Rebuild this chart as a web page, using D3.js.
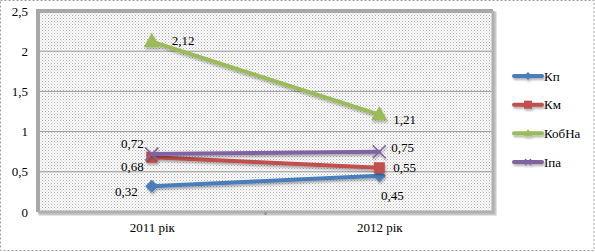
<!DOCTYPE html>
<html><head><meta charset="utf-8">
<script src="https://cdn.jsdelivr.net/npm/d3@7"></script>
<style>
html,body{margin:0;padding:0;background:#fff;}
svg{display:block;}
</style></head>
<body>
<script>
const categories = ["2011 рік", "2012 рік"];
const seriesNames = ["Кп", "Км", "КобНа", "Іпа"];
const kp = [0.32, 0.45];
const km = [0.68, 0.55];
const kobna = [2.12, 1.21];
const ipa = [0.72, 0.75];
const yTicks = [0, 0.5, 1, 1.5, 2, 2.5];
const yTickLabels = ["0", "0,5", "1", "1,5", "2", "2,5"];

const FONT = "'Liberation Serif', Tinos, 'Times New Roman', 'DejaVu Serif', serif";
const colors = ["#4a7ebb", "#c0504d", "#9bbb59", "#8064a2"];
const markers = ["diamond", "square", "triangle", "x"];
// label offsets [dx, dy, anchor] per series per point
const labelOffsets = [
  [[-14, 5, "end"], [13, 20, "middle"]],
  [[-8, 9, "end"], [14, 0, "start"]],
  [[20, -1, "start"], [14, 5, "start"]],
  [[-8, -11, "end"], [12, -4, "start"]]
];

const seriesData = [kp, km, kobna, ipa];
const fmt = v => v.toFixed(2).replace(".", ",");

const W = 595, H = 252;
const svg = d3.select("body").append("svg").attr("width", W).attr("height", H)
  .attr("font-family", FONT);

const defs = svg.append("defs");
const pat = defs.append("pattern").attr("id", "dots").attr("width", 3).attr("height", 3)
  .attr("patternUnits", "userSpaceOnUse");
pat.append("rect").attr("width", 3).attr("height", 3).attr("fill", "#fbfbfb");
pat.append("rect").attr("width", 1).attr("height", 1).attr("fill", "#b0b0b0");
pat.append("rect").attr("x", 1.5).attr("y", 1.5).attr("width", 1).attr("height", 1).attr("fill", "#c8c8c8");

const sh = defs.append("filter").attr("id", "shadow").attr("x", "-20%").attr("y", "-20%").attr("width", "140%").attr("height", "160%");
sh.append("feDropShadow").attr("dx", 1).attr("dy", 2).attr("stdDeviation", 1).attr("flood-color", "#000").attr("flood-opacity", 0.3);

// outer border
svg.append("rect").attr("x", 0.5).attr("y", 0.5).attr("width", W - 1.5).attr("height", 250)
  .attr("fill", "#fff").attr("stroke", "#a0a0a0").attr("stroke-dasharray", "2,2");

const pLeft = 38, pRight = 493, pTop = 11, pBottom = 212;
const x = d3.scalePoint().domain(categories).range([pLeft, pRight]).padding(0.5);
const y = d3.scaleLinear().domain([0, 2.5]).range([pBottom, pTop]);

// plot area shadow
svg.append("rect").attr("x", pLeft + 2).attr("y", pTop + 2).attr("width", pRight - pLeft).attr("height", pBottom - pTop)
  .attr("fill", "none").attr("stroke", "#c8c8c8").attr("stroke-width", 3);
svg.append("rect").attr("x", pLeft).attr("y", pTop).attr("width", pRight - pLeft).attr("height", pBottom - pTop)
  .attr("fill", "url(#dots)");

// gridlines
svg.append("g").selectAll("line").data(yTicks.filter(t => t > 0 && t < 2.5)).join("line")
  .attr("x1", pLeft).attr("x2", pRight).attr("y1", d => y(d)).attr("y2", d => y(d))
  .attr("stroke", "#9a9a9a").attr("stroke-width", 1);

// plot frame (3D-ish)
svg.append("path").attr("d", `M${pLeft},${pBottom}V${pTop}H${pRight}`)
  .attr("fill", "none").attr("stroke", "#a8a8a8").attr("stroke-width", 4);
svg.append("path").attr("d", `M${pLeft},${pBottom}H${pRight}V${pTop}`)
  .attr("fill", "none").attr("stroke", "#b0b0b0").attr("stroke-width", 3);

// y axis labels
const yAxis = d3.axisLeft(y).tickValues(yTicks).tickFormat((d, i) => yTickLabels[i]).tickSize(0).tickPadding(8);
const ga = svg.append("g").attr("transform", `translate(${pLeft - 2},0)`).call(yAxis)
  .attr("font-family", FONT).attr("font-size", 13);
ga.select(".domain").remove();
ga.selectAll("text").attr("fill", "#000");

// category tick in middle
svg.append("line").attr("x1", (pLeft + pRight) / 2).attr("x2", (pLeft + pRight) / 2).attr("y1", pBottom).attr("y2", pBottom + 3)
  .attr("stroke", "#909090").attr("stroke-width", 2);

// x axis labels
const xAxis = d3.axisBottom(x).tickSize(0).tickPadding(11);
const gx = svg.append("g").attr("transform", `translate(0,${pBottom})`).call(xAxis)
  .attr("font-family", FONT).attr("font-size", 13);
gx.select(".domain").remove();
gx.selectAll("text").attr("fill", "#000");

function drawMarker(g, type, cx, cy, color, s) {
  if (type === "diamond") {
    g.append("path").attr("d", `M${cx},${cy - s}L${cx + s},${cy}L${cx},${cy + s}L${cx - s},${cy}Z`).attr("fill", color);
  } else if (type === "square") {
    g.append("rect").attr("x", cx - s).attr("y", cy - s).attr("width", 2 * s).attr("height", 2 * s).attr("fill", color);
  } else if (type === "triangle") {
    g.append("path").attr("d", `M${cx},${cy - s * 1.1}L${cx + s},${cy + s * 0.7}L${cx - s},${cy + s * 0.7}Z`).attr("fill", color);
  } else {
    g.append("path").attr("d", `M${cx - s},${cy - s}L${cx + s},${cy + s}M${cx - s},${cy + s}L${cx + s},${cy - s}`)
      .attr("stroke", color).attr("stroke-width", 1.5);
  }
}

const line = d3.line().x((d, i) => x(categories[i])).y(d => y(d));
const markerSizes = [6.5, 5.5, 8, 6.5];

seriesData.forEach((vals, si) => {
  const g = svg.append("g").attr("filter", "url(#shadow)");
  g.append("path").datum(vals).attr("d", line).attr("fill", "none")
    .attr("stroke", colors[si]).attr("stroke-width", 4).attr("stroke-linecap", "round");
  vals.forEach((v, i) => drawMarker(g, markers[si], x(categories[i]), y(v), colors[si], markerSizes[si]));
});

// data labels
seriesData.forEach((vals, si) => {
  vals.forEach((v, i) => {
    const o = labelOffsets[si][i];
    svg.append("text").attr("x", x(categories[i]) + o[0]).attr("y", y(v) + o[1])
      .attr("dy", "0.35em").attr("text-anchor", o[2]).attr("font-size", 13).attr("fill", "#000").text(fmt(v));
  });
});

// legend
const legY = d3.scalePoint().domain(seriesNames).range([76, 162]);
seriesNames.forEach((n, si) => {
  const g = svg.append("g").attr("filter", "url(#shadow)");
  const cy = legY(n);
  g.append("line").attr("x1", 514).attr("x2", 542).attr("y1", cy).attr("y2", cy)
    .attr("stroke", colors[si]).attr("stroke-width", 4).attr("stroke-linecap", "round");
  drawMarker(g, markers[si], 528, cy, colors[si], si === 3 ? 3 : 4);
  svg.append("text").attr("x", 544).attr("y", cy).attr("dy", "0.35em").attr("font-size", 13).attr("fill", "#000").text(n);
});
</script>
</body></html>
